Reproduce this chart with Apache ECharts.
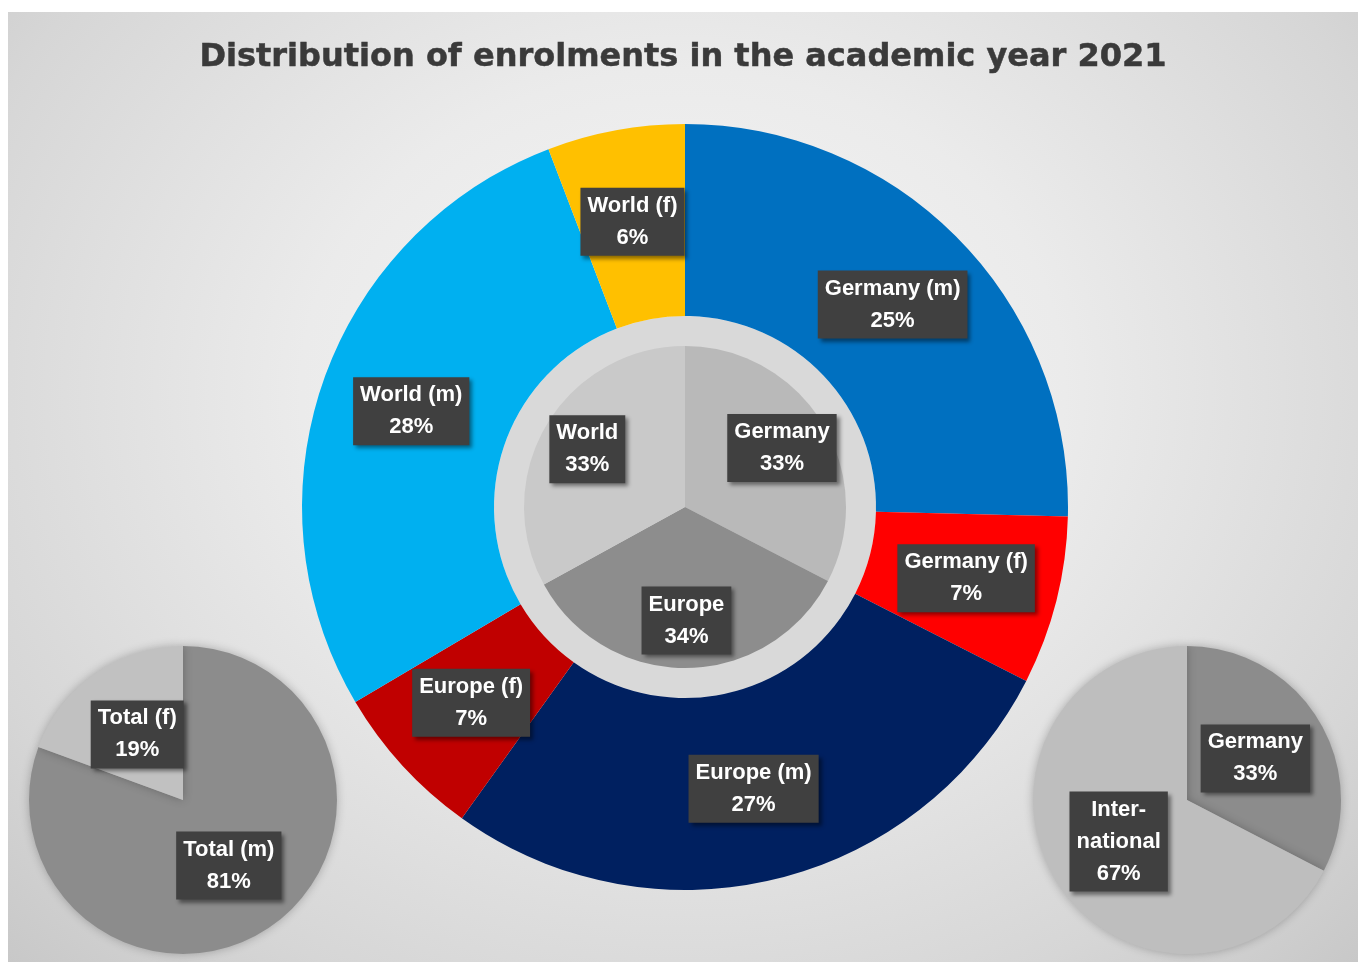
<!DOCTYPE html>
<html><head><meta charset="utf-8">
<script src="https://cdn.jsdelivr.net/npm/echarts@6/dist/echarts.min.js"></script>
<style>
html,body{margin:0;padding:0;background:#ffffff;}
#chart{position:absolute;left:8px;top:12px;width:1350px;height:950px;
background:radial-gradient(ellipse at 50% 40%, #f6f6f6 0%, #ebebeb 40%, #d6d6d6 80%, #c8c8c8 100%);}
</style></head>
<body><div id="chart"></div>
<script>
var titleText = 'Distribution of enrolments in the academic year 2021';
var outerNames = ['Germany (m)', 'Germany (f)', 'Europe (m)', 'Europe (f)', 'World (m)', 'World (f)'];
var outerValues = [25.4, 7.1, 27.4, 6.6, 27.7, 5.8];
var outerColors = ['#0070c0', '#ff0000', '#002060', '#c00000', '#00b0f0', '#ffc000'];
var innerNames = ['Germany', 'Europe', 'World'];
var innerValues = [32.6, 34.4, 33.0];
var innerColors = ['#b9b9b9', '#8d8d8d', '#c9c9c9'];
var leftNames = ['Total (m)', 'Total (f)'];
var leftValues = [80.6, 19.4];
var leftColors = ['#8c8c8c', '#c1c1c1'];
var rightNames = ['Germany', 'Inter-\nnational'];
var rightValues = [32.6, 67.4];
var rightColors = ['#8c8c8c', '#bebebe'];

function mk(names, values, colors) {
  return names.map(function (n, i) { return { name: n, value: values[i], itemStyle: { color: colors[i] } }; });
}
var labelStyle = {
  show: true, position: 'inside', formatter: '{b}\n{d}%',
  color: '#ffffff', fontFamily: 'Liberation Sans, Arial, sans-serif', fontWeight: 'bold', fontSize: 22,
  lineHeight: 32, backgroundColor: '#404040', padding: [2, 7],
  shadowColor: 'rgba(0,0,0,0.45)', shadowBlur: 4, shadowOffsetX: 3, shadowOffsetY: 3
};
var noLabel = { show: false };
var chart = echarts.init(document.getElementById('chart'), null, { renderer: 'canvas' });
chart.setOption({
  backgroundColor: 'transparent',
  animation: false,
  title: { text: titleText, left: 'center', top: 25,
    textStyle: { fontFamily: 'DejaVu Sans, sans-serif', fontWeight: 'bold', fontSize: 32, color: '#3a3a3a',
      textBorderColor: '#3a3a3a', textBorderWidth: 0.5 } },
  series: [
    { type: 'pie', name: 'ring', silent: true, center: [677, 495], radius: [0, 191], startAngle: 90,
      label: noLabel, labelLine: { show: false },
      data: [{ name: 'ring', value: innerValues.reduce(function (a, b) { return a + b; }, 0), itemStyle: { color: '#d9d9d9' } }] },
    { type: 'pie', name: 'outer', center: [677, 495], radius: [191, 383], startAngle: 90, percentPrecision: 0,
      avoidLabelOverlap: false, label: labelStyle, labelLine: { show: false },
      data: mk(outerNames, outerValues, outerColors) },
    { type: 'pie', name: 'inner', center: [677, 495], radius: [0, 161], startAngle: 90, percentPrecision: 0,
      avoidLabelOverlap: false, label: noLabel, labelLine: { show: false },
      data: mk(innerNames, innerValues, innerColors) },
    { type: 'pie', name: 'innerLabels', silent: true, center: [677, 495], radius: [60, 161], startAngle: 90, percentPrecision: 0,
      avoidLabelOverlap: false, label: labelStyle, labelLine: { show: false },
      data: innerNames.map(function (n, i) { return { name: n, value: innerValues[i], itemStyle: { color: 'rgba(0,0,0,0)' } }; }) },
    { type: 'pie', name: 'left', center: [175, 788], radius: [0, 154], startAngle: 90, percentPrecision: 0,
      avoidLabelOverlap: false, label: labelStyle, labelLine: { show: false },
      itemStyle: { shadowBlur: 10, shadowColor: 'rgba(0,0,0,0.25)' },
      data: mk(leftNames, leftValues, leftColors) },
    { type: 'pie', name: 'right', center: [1179, 788], radius: [0, 154], startAngle: 90, percentPrecision: 0,
      avoidLabelOverlap: false, label: labelStyle, labelLine: { show: false },
      itemStyle: { shadowBlur: 10, shadowColor: 'rgba(0,0,0,0.25)' },
      data: mk(rightNames, rightValues, rightColors) }
  ]
});
</script></body></html>
